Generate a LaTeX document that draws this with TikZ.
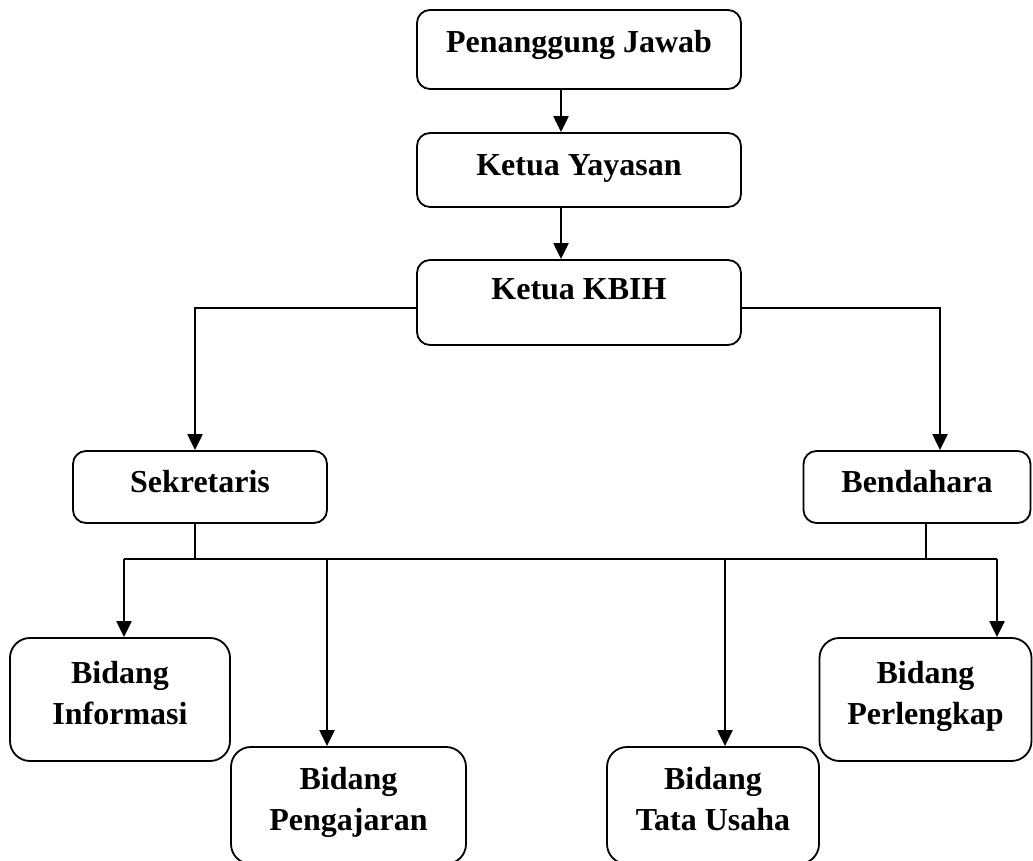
\documentclass[tikz,border=0pt]{standalone}
\usepackage{fontspec}
\setmainfont{Liberation Serif}
\usepackage{tikz}
\usetikzlibrary{calc}
\usetikzlibrary{positioning}
\usetikzlibrary{arrows.meta}

\tikzset{
	kotak/.style = {draw, line width = 1.8pt, rounded corners = 13pt, inner sep = 0pt,
		font = \bfseries\fontsize{32}{41}\selectfont, align = center},
	kotakdua/.style = {kotak, rounded corners = 20pt,
		execute at begin node = \strut, execute at end node = \strut},
	panah/.style = {draw, line width = 2.2pt, -{Triangle[width = 15pt, length = 16pt]}},
	garis/.style = {draw, line width = 1.6pt},
}

\begin{document}
\begin{tikzpicture}[x = 1pt, y = 1pt]
		\useasboundingbox (0, 0) rectangle (1033, 861);

		\node[kotak, minimum width = 324pt, minimum height = 79pt, text height = 22pt, text depth = 15pt] (pj) at (579, 811.5) {Penanggung Jawab};
		\node[kotak, minimum width = 324pt, minimum height = 74pt, text height = 22pt, text depth = 11pt] (ky) at (579, 691) {Ketua Yayasan};
		\node[kotak, minimum width = 324pt, minimum height = 85pt, text height = 22pt, text depth = 27pt] (kbih) at (579, 558.5) {Ketua KBIH};
		\node[kotak, minimum width = 254pt, minimum height = 72pt, text height = 22pt, text depth = 10pt] (sek) at (200, 374) {Sekretaris};
		\node[kotak, minimum width = 227pt, minimum height = 72pt, text height = 22pt, text depth = 10pt] (bend) at (917, 374) {Bendahara};
		\node[kotakdua, minimum width = 220pt, minimum height = 123pt] (info) at (120, 161.5) {Bidang\\Informasi};
		\node[kotakdua, minimum width = 235pt, minimum height = 117pt] (ajar) at (348.5, 55.5) {Bidang\\Pengajaran};
		\node[kotakdua, minimum width = 212pt, minimum height = 117pt] (tu) at (713, 55.5) {Bidang\\Tata Usaha};
		\node[kotakdua, minimum width = 212pt, minimum height = 123pt] (lengkap) at (925.5, 161.5) {Bidang\\Perlengkap};

		\coordinate (busL) at (124, 302);
		\coordinate (busR) at (997, 302);

		\path[panah] ([xshift = -18pt]pj.south) -- ([xshift = -18pt]ky.north);
		\path[panah] ([xshift = -18pt]ky.south) -- ([xshift = -18pt]kbih.north);
		\path[panah] ([yshift = -5.5pt]kbih.west) -| ([xshift = -5pt]sek.north);
		\path[panah] ([yshift = -5.5pt]kbih.east) -| ([xshift = 23pt]bend.north);

		\path[garis] ([xshift = -5pt]sek.south) -- ([xshift = -5pt]sek.south |- busL);
		\path[garis] ([xshift = 9pt]bend.south) -- ([xshift = 9pt]bend.south |- busL);
		\path[garis] (busL) -- (busR);

		\path[panah] (busL) -- (busL |- info.north);
		\path[panah] (busL -| 327, 0) -- (327, 0 |- ajar.north);
		\path[panah] (busL -| 725, 0) -- (725, 0 |- tu.north);
		\path[panah] (busR) -- (busR |- lengkap.north);
\end{tikzpicture}
\end{document}
